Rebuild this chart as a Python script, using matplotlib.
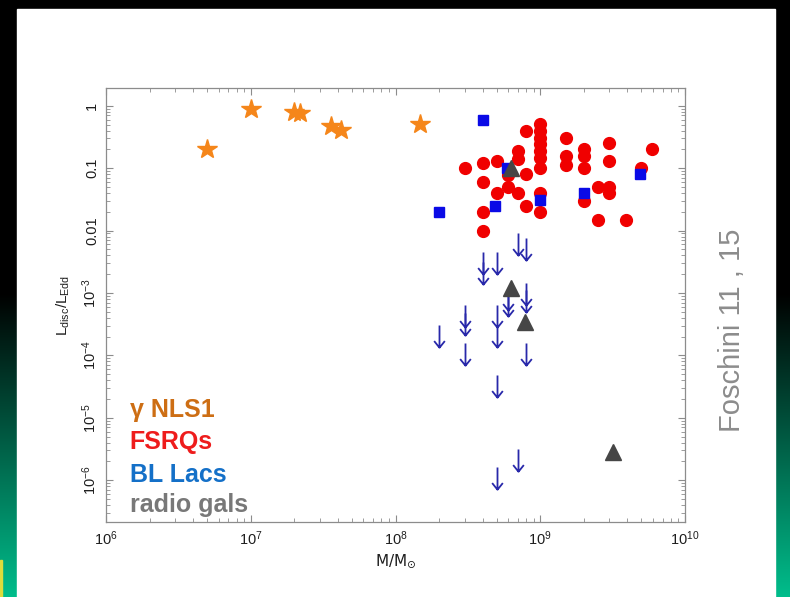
import numpy as np
import matplotlib
matplotlib.use("Agg")
import matplotlib.pyplot as plt
from matplotlib.path import Path
from matplotlib.patches import Rectangle
from matplotlib.ticker import LogLocator, FuncFormatter, NullFormatter

plt.rcParams['font.family'] = ['Liberation Sans', 'DejaVu Sans']
plt.rcParams['mathtext.fontset'] = 'custom'
plt.rcParams['mathtext.rm'] = 'Liberation Sans'
plt.rcParams['mathtext.it'] = 'Liberation Sans:italic'
plt.rcParams['mathtext.bf'] = 'Liberation Sans:bold'

# gamma-ray NLS1
nls1_mass = [5e6, 1e7, 2e7, 2.2e7, 3.6e7, 4.2e7, 1.48e8]
nls1_ratio = [0.2, 0.9, 0.79, 0.76, 0.48, 0.41, 0.51]

# FSRQs
fsrq_mass = [3e8,
             4e8, 4e8, 4e8, 4e8,
             5e8, 5e8,
             6e8, 6e8,
             7e8, 7e8, 7e8,
             8e8, 8e8, 8e8,
             1e9, 1e9, 1e9, 1e9, 1e9, 1e9, 1e9, 1e9, 1e9,
             1.5e9, 1.5e9, 1.5e9,
             2e9, 2e9, 2e9, 2e9,
             2.5e9, 2.5e9,
             3e9, 3e9, 3e9, 3e9,
             3.9e9, 5e9, 5.9e9]
fsrq_ratio = [0.1,
              0.12, 0.061, 0.02, 0.01,
              0.13, 0.04,
              0.078, 0.05,
              0.185, 0.14, 0.04,
              0.4, 0.08, 0.025,
              0.51, 0.39, 0.30, 0.24, 0.185, 0.145, 0.1, 0.04, 0.02,
              0.3, 0.154, 0.113,
              0.2, 0.154, 0.1, 0.03,
              0.05, 0.015,
              0.25, 0.13, 0.05, 0.04,
              0.015, 0.1, 0.2]

# BL Lacs with measured disc
bll_mass = [4e8, 2e8, 4.9e8, 5.9e8, 1e9, 2e9, 4.9e9]
bll_ratio = [0.6, 0.02, 0.025, 0.1, 0.031, 0.04, 0.08]

# BL Lacs upper limits
bll_ul_mass = [7e8, 8e8, 4e8, 4e8, 5e8, 6e8, 6e8, 8e8, 8e8, 3e8, 3e8,
               2e8, 5e8, 5e8, 3e8, 8e8, 5e8, 7e8, 5e8]
bll_ul_ratio = [9.3e-3, 7.7e-3, 4.6e-3, 3.1e-3, 4.6e-3, 1.18e-3, 9.5e-4,
                1.43e-3, 1.11e-3, 6.4e-4, 4.7e-4, 3.1e-4, 6.5e-4, 3.1e-4,
                1.6e-4, 1.6e-4, 4.8e-5, 3.2e-6, 1.6e-6]

# radio galaxies
rg_mass = [6.3e8, 6.3e8, 7.8e8, 3.2e9]
rg_ratio = [0.1, 1.18e-3, 3.4e-4, 2.8e-6]

legend_labels = ['γ NLS1', 'FSRQs', 'BL Lacs', 'radio gals']
legend_colors = ['#CD6E14', '#EE1C1C', '#1470C8', '#787878']

fig = plt.figure(figsize=(7.9, 5.97), dpi=100)
fig.patch.set_facecolor('black')

# slide background: black top fading to green at the bottom
bg = fig.add_axes([0, 0, 1, 1], zorder=-10)
bg.axis('off')
rows = 597
t = np.clip((np.arange(rows) - 293) / (rows - 293), 0, 1)
green = np.array([0, 190, 140]) / 255.0
grad = (t[:, None] * green[None, :])[:, None, :]
bg.imshow(grad, aspect='auto', extent=[0, 1, 0, 1], origin='upper')
bg.set_xlim(0, 1)
bg.set_ylim(0, 1)
bg.add_patch(Rectangle((17 / 790, 0), (775 - 17) / 790, (597 - 9) / 597,
                       transform=bg.transAxes, color='white', zorder=2))
bg.add_patch(Rectangle((0, 0), 2 / 790, 37 / 597,
                       transform=bg.transAxes, color='#DCDC3C', zorder=2))

ax = fig.add_axes([106 / 790, 1 - 522 / 597, 579 / 790, 434 / 597])
ax.set_xscale('log')
ax.set_yscale('log')
ax.set_xlim(1e6, 1e10)
ax.set_ylim(10 ** -6.67, 10 ** 0.284)

ax.plot(nls1_mass, nls1_ratio, ls='none', marker='*', ms=15,
        color='#F5861A', mec='#F5861A', zorder=3)
ax.plot(fsrq_mass, fsrq_ratio, ls='none', marker='o', ms=8.5,
        color='#F00000', mec='#F00000', zorder=4)
ax.plot(bll_mass, bll_ratio, ls='none', marker='s', ms=7,
        color='#0A0AE6', mec='#0A0AE6', zorder=5)

# downward arrow marker for upper limits (top of arrow at the value)
arrow = Path([(0, 0), (0, -1), (-0.24, -0.7), (0, -1), (0.24, -0.7)],
             [Path.MOVETO, Path.LINETO, Path.MOVETO, Path.LINETO, Path.LINETO])
ax.plot(bll_ul_mass, bll_ul_ratio, ls='none', marker=arrow, ms=32,
        mfc='none', mec='#2828AA', mew=1.3, zorder=6)

ax.plot(rg_mass, rg_ratio, ls='none', marker='^', ms=11,
        color='#464646', mec='#464646', zorder=7)


def ylab(v, pos):
    if v >= 0.009:
        return '%g' % v
    return r'$\mathdefault{10^{%d}}$' % int(round(np.log10(v)))


ax.yaxis.set_major_locator(LogLocator(base=10, numticks=20))
ax.yaxis.set_major_formatter(FuncFormatter(ylab))
ax.yaxis.set_minor_locator(LogLocator(base=10, subs=np.arange(2, 10), numticks=20))
ax.yaxis.set_minor_formatter(NullFormatter())
ax.xaxis.set_minor_formatter(NullFormatter())

for sp in ax.spines.values():
    sp.set_color('#8C8C8C')
    sp.set_linewidth(0.9)
ax.tick_params(which='both', direction='in', top=True, right=True,
               color='#8C8C8C', labelcolor='#1E1E1E', labelsize=10.5, pad=5)
ax.tick_params(which='major', length=5, width=0.8)
ax.tick_params(which='minor', length=3, width=0.6)
ax.tick_params(axis='y', labelrotation=90)
for lab in ax.get_yticklabels():
    lab.set_va('center')

ax.set_xlabel(r'$\mathrm{M/M}_{\odot}$', fontsize=11, color='#1E1E1E',
              labelpad=3, math_fontfamily='dejavusans')
ax.set_ylabel(r'$\mathdefault{L_{disc}/L_{Edd}}$', fontsize=11, color='#1E1E1E', labelpad=6)

ys = [0.258, 0.185, 0.108, 0.039]
for lbl, col, yy in zip(legend_labels, legend_colors, ys):
    ax.text(0.041, yy, lbl, transform=ax.transAxes, color=col, fontsize=18,
            fontweight='bold', ha='left', va='center')

fig.text(732 / 790, 1 - 330 / 597, 'Foschini 11 , 15', rotation=90,
         fontsize=21, color='#8C8C8C', ha='center', va='center')

fig.savefig('out.png', dpi=100, facecolor=fig.get_facecolor())
